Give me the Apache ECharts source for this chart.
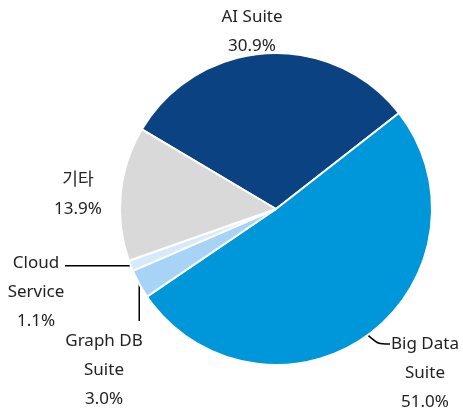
<!DOCTYPE html>
<html>
<head>
<meta charset="utf-8">
<script src="https://cdn.jsdelivr.net/npm/echarts@6/dist/echarts.min.js"></script>
<style>
  html, body { margin: 0; padding: 0; background: #fff; }
  #chart { width: 463px; height: 416px; }
</style>
</head>
<body>
<div id="chart"></div>
<script>
// slice order is clockwise from the top-left
const categories = ['AI Suite', 'Big Data\nSuite', 'Graph DB\nSuite', 'Cloud\nService', '기타'];
const shares = [30.9, 51.0, 3.0, 1.1, 13.9];
const colors = ['#0b4282', '#0096da', '#a6d3f6', '#d6eafb', '#d9d9d9'];

// where each label sits (centre of the text block)
const labelSpots = [
  { x: 252, y: 32 },
  { x: 425, y: 373 },
  { x: 104, y: 370 },
  { x: 36, y: 292 },
  { x: 78, y: 195 }
];

const chart = echarts.init(document.getElementById('chart'));

chart.setOption({
  animation: false,
  textStyle: { fontFamily: "'Noto Sans', 'Noto Sans CJK KR', sans-serif" },
  series: [{
    type: 'pie',
    center: [276, 209],
    radius: 156,
    startAngle: 149.3,
    clockwise: true,
    data: categories.map((name, i) => ({
      name: name,
      value: shares[i],
      itemStyle: { color: colors[i] },
      labelLine: { show: i >= 1 && i <= 3 }
    })),
    itemStyle: { borderColor: '#fff', borderWidth: 2 },
    label: {
      show: true,
      position: 'outside',
      color: '#222',
      fontSize: 17,
      lineHeight: 29,
      align: 'center',
      overflow: 'none',
      edgeDistance: 0,
      formatter: p => p.name + '\n' + p.value.toFixed(1) + '%'
    },
    labelLine: {
      show: true,
      lineStyle: { color: '#000', width: 1.5 },
      smooth: 0.25
    },
    labelLayout: function (params) {
      const i = params.dataIndex;
      const spot = labelSpots[i];
      const out = { x: spot.x, y: spot.y, align: 'center', verticalAlign: 'middle' };
      const p0 = params.labelLinePoints && params.labelLinePoints[0];
      if (p0) {
        if (i === 1) {
          out.labelLinePoints = [p0, [spot.x - 47, spot.y - 29], [spot.x - 35, spot.y - 29]];
        } else if (i === 2) {
          out.labelLinePoints = [p0, [p0[0], spot.y - 49], [p0[0], spot.y - 49]];
        } else if (i === 3) {
          out.labelLinePoints = [p0, [spot.x + 29, p0[1]], [spot.x + 29, p0[1]]];
        }
      }
      return out;
    }
  }]
});
</script>
</body>
</html>
